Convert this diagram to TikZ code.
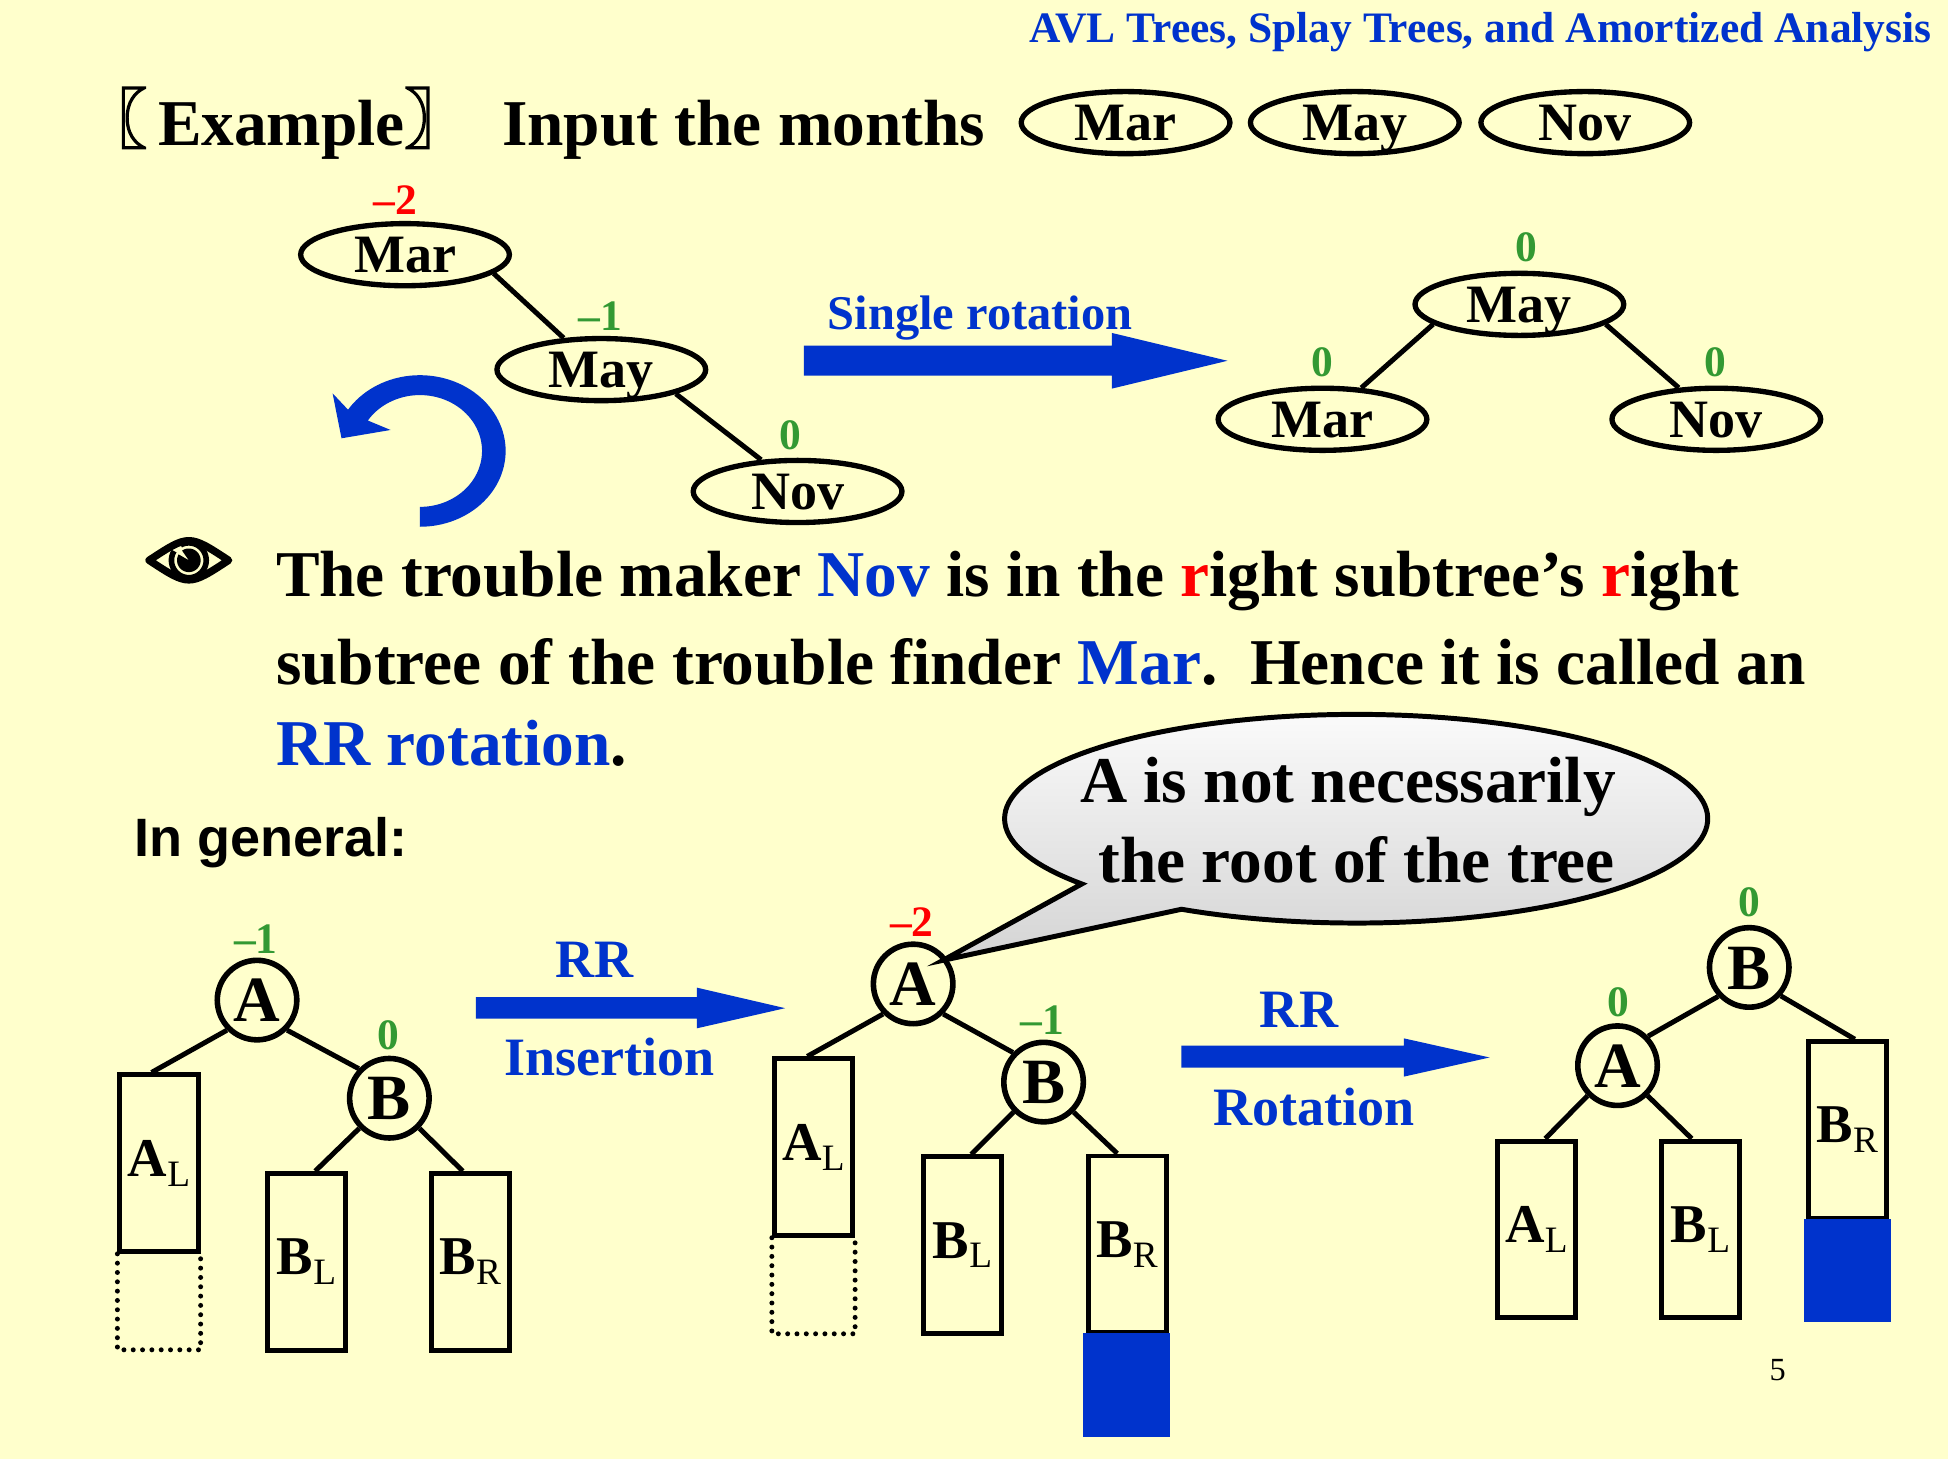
\documentclass[tikz,border=0pt]{standalone}
\usepackage{fontspec}
\setmainfont{Liberation Serif}
\newfontfamily\arialf{Liberation Sans}
\newfontfamily\cjkf{Noto Sans CJK SC}[FakeBold=2.5]
\usetikzlibrary{shapes.geometric}
\definecolor{bgy}{RGB}{255,255,204}
\definecolor{myblue}{RGB}{0,51,204}
\definecolor{mygreen}{RGB}{51,153,51}
\definecolor{myred}{RGB}{255,0,0}
\definecolor{bubtop}{RGB}{250,250,250}
\definecolor{bubbot}{RGB}{212,212,212}
\newcommand\mysub[1]{\raisebox{-8pt}{\fontsize{30}{32}\selectfont\mdseries #1}}
\begin{document}
\begin{tikzpicture}[x=1pt,y=-1pt,
  bigf/.style={font=\fontsize{52.6}{60}\selectfont\bfseries},
  oval/.style={ellipse, draw, line width=4.3pt, minimum width=168pt, minimum height=50pt, inner sep=0pt, font=\fontsize{43.5}{50}\selectfont\bfseries, text height=29pt, text depth=0pt},
  circ/.style={circle, draw, line width=4.5pt, minimum size=64pt, inner sep=0pt, font=\fontsize{52}{60}\selectfont\bfseries, text height=35pt, text depth=0pt},
  sub/.style={rectangle, draw, line width=4pt, minimum width=63pt, minimum height=142pt, inner sep=0pt, font=\fontsize{44}{50}\selectfont\bfseries},
  blk/.style={rectangle, fill=myblue, inner sep=0pt, minimum width=70pt},
  bal/.style={anchor=base, inner sep=0pt, font=\fontsize{35}{40}\selectfont\bfseries},
  txt/.style={anchor=base west, inner sep=0pt, bigf},
  lbl/.style={anchor=base, inner sep=0pt, text=myblue, font=\fontsize{43.5}{50}\selectfont\bfseries},
  brk/.style={anchor=base west, inner sep=0pt, font=\fontsize{53}{56}\selectfont\cjkf},
  edge/.style={line width=4pt},
  dots/.style={line width=4pt, dash pattern=on 0pt off 7.5pt, line cap=round}
]
\fill[bgy] (0,0) rectangle (1568,1174);
\useasboundingbox (0,0) rectangle (1568,1174);

% title
\node[anchor=base east, inner sep=0pt, text=myblue, font=\fontsize{35}{40}\selectfont\bfseries] (title) at (1555,34) {AVL Trees, Splay Trees, and Amortized Analysis};

% example line
\node[brk] (lbr) at (65.5,115) {〖};
\node[txt] (ex) at (127,117) {Example};
\node[brk] (rbr) at (325,115) {〗};
\node[txt] (inp) at (404,117) {Input the months};
\node[oval] (m1) at (906,98.7) {Mar};
\node[oval] (m2) at (1090.5,98.7) {May};
\node[oval] (m3) at (1276,98.7) {Nov};

% top-left tree
\node[oval] (mar1) at (326,205) {Mar};
\node[oval] (may1) at (484,297.5) {May};
\node[oval] (nov1) at (642,395.6) {Nov};
\node[bal, text=myred] (bm1) at (318,173) {–2};
\node[bal, text=mygreen] (bm2) at (483,266) {–1};
\node[bal, text=mygreen] (bm3) at (636,362) {0};
\draw[edge] (mar1.-12) -- (may1.140);
\draw[edge] (may1.-18) -- (nov1.139);

% curved rotation arrow
\fill[myblue] plot[domain=90:-147, samples=80] ({338+69*cos(\x)},{363+61*sin(\x)})
  -- (267.7,316.6) -- (274.9,352.8) -- (314.4,346.1)
  -- plot[domain=-147:90, samples=80] ({338+50*cos(\x)},{363+45*sin(\x)}) -- cycle;

% single rotation arrow
\node[lbl, font=\fontsize{39}{45}\selectfont\bfseries] (sr) at (789,265) {Single rotation};
\fill[myblue] (647,278.3) -- (895,278.3) -- (895,268) -- (988,290.4) -- (895,312.8) -- (895,302.4) -- (647,302.4) -- cycle;

% top-right tree
\node[oval] (may2) at (1223,245) {May};
\node[oval] (mar2) at (1064.5,337.5) {Mar};
\node[oval] (nov2) at (1381.5,337.5) {Nov};
\node[bal, text=mygreen] (bn1) at (1229,210.5) {0};
\node[bal, text=mygreen] (bn2) at (1064.5,303) {0};
\node[bal, text=mygreen] (bn3) at (1381,303) {0};
\draw[edge] (may2.-167) -- (mar2.39);
\draw[edge] (may2.-13) -- (nov2.140);

% eye
\draw[line width=6pt, line join=round, line cap=round] (120,451) .. controls (152,430) .. (184,451) .. controls (152,472) .. (120,451);
\draw[line width=4.5pt] plot[domain=148:478, samples=60] ({152+14*cos(\x)},{451-14*sin(\x)});
\fill (152,451) -- plot[domain=150:485, samples=60] ({152+9.5*cos(\x)},{451-9.5*sin(\x)}) -- cycle;

% paragraph
\node[txt] (l1) at (222,480) {The trouble maker \textcolor{myblue}{Nov} is in the \textcolor{myred}{r}ight subtree’s \textcolor{myred}{r}ight};
\node[txt] (l2) at (222,551) {subtree of the trouble finder \textcolor{myblue}{Mar}.\ \ Hence it is called an};
\node[txt] (l3) at (222,616) {\textcolor{myblue}{RR rotation}.};

\node[anchor=base west, inner sep=0pt, font=\arialf\bfseries\fontsize{43.5}{50}\selectfont] (ig) at (108,689.5) {In general:};

% speech bubble
\shade[top color=bubtop, bottom color=bubbot, draw=black, line width=4pt, line join=miter]
  plot[domain=141.3:479.8, samples=150] ({1091.6+283*cos(\x)},{659+84*sin(\x)}) -- (759,773) -- cycle;
\node[anchor=base, inner sep=0pt, bigf] (bt1) at (1085,646) {A is not necessarily};
\node[anchor=base, inner sep=0pt, bigf] (bt2) at (1092,710) {the root of the tree};

% left tree
\node[circ] (a1) at (206.9,805) {A};
\node[circ] (b1) at (313.4,884) {B};
\node[sub] (al1) at (128,936.25) {A\mysub{L}};
\node[sub] (bl1) at (246.7,1015.7) {B\mysub{L}};
\node[sub] (br1) at (378.5,1015.7) {B\mysub{R}};
\coordinate (d1) at (0,1086.5);
\draw[dots] (al1.south west) -- (al1.south west |- d1) -- (al1.south east |- d1) -- (al1.south east);
\node[bal, text=mygreen] (ba1) at (206,767.4) {–1};
\node[bal, text=mygreen] (bb1) at (312.5,844.5) {0};
\draw[edge] (a1.-135) -- ([xshift=-6pt]al1.north);
\draw[edge] (a1.-45) -- (b1.136);
\draw[edge] (b1.-135) -- ([xshift=7pt]bl1.north);
\draw[edge] (b1.-45) -- ([xshift=-6pt]br1.north);

% RR insertion arrow
\node[lbl] (rr1) at (478.4,786.7) {RR};
\node[lbl] (ins) at (490.7,866) {Insertion};
\fill[myblue] (383,802.6) -- (561,802.6) -- (561,795) -- (632,811.5) -- (561,827.7) -- (561,820) -- (383,820) -- cycle;

% middle tree
\node[circ] (a2) at (735,792) {A};
\node[circ] (b2) at (840,871) {B};
\node[sub] (al2) at (654.8,923.3) {A\mysub{L}};
\node[sub] (bl2) at (774.7,1002.2) {B\mysub{L}};
\node[sub] (br2) at (907.3,1001.5) {B\mysub{R}};
\node[blk, minimum height=84pt] (bf2) at (907,1115) {};
\coordinate (d2) at (0,1073.6);
\draw[dots] (al2.south west) -- (al2.south west |- d2) -- (al2.south east |- d2) -- (al2.south east);
\node[bal, text=myred] (ba2) at (734,754) {–2};
\node[bal, text=mygreen] (bb2) at (839,833) {–1};
\draw[edge] (a2.-135) -- ([xshift=-5pt]al2.north);
\draw[edge] (a2.-45) -- (b2.136);
\draw[edge] (b2.-135) -- ([xshift=7pt]bl2.north);
\draw[edge] (b2.-45) -- ([xshift=-8pt]br2.north);

% RR rotation arrow
\node[lbl] (rr2) at (1045.6,827) {RR};
\node[lbl] (rot) at (1058,906) {Rotation};
\fill[myblue] (951,841.6) -- (1130,841.6) -- (1130,835.8) -- (1199,851.2) -- (1130,866.6) -- (1130,859.3) -- (951,859.3) -- cycle;

% right tree
\node[circ] (b3) at (1408,778.7) {B};
\node[circ] (a3) at (1302,857.8) {A};
\node[sub] (al3) at (1236.8,989.5) {A\mysub{L}};
\node[sub] (bl3) at (1368.7,989.5) {B\mysub{L}};
\node[sub] (br3) at (1487,909.5) {B\mysub{R}};
\node[blk, minimum height=83pt] (bf3) at (1487,1022.5) {};
\node[bal, text=mygreen] (bb3) at (1408,738) {0};
\node[bal, text=mygreen] (ba3) at (1302.5,818) {0};
\draw[edge] (b3.-137) -- (a3.44);
\draw[edge] (b3.-42) -- ([xshift=6pt]br3.north);
\draw[edge] (a3.-135) -- ([xshift=7pt]al3.north);
\draw[edge] (a3.-45) -- ([xshift=-7pt]bl3.north);

% page number
\node[anchor=base, inner sep=0pt, font=\fontsize{26}{30}\selectfont] (pg) at (1431,1111) {5};
\end{tikzpicture}
\end{document}
